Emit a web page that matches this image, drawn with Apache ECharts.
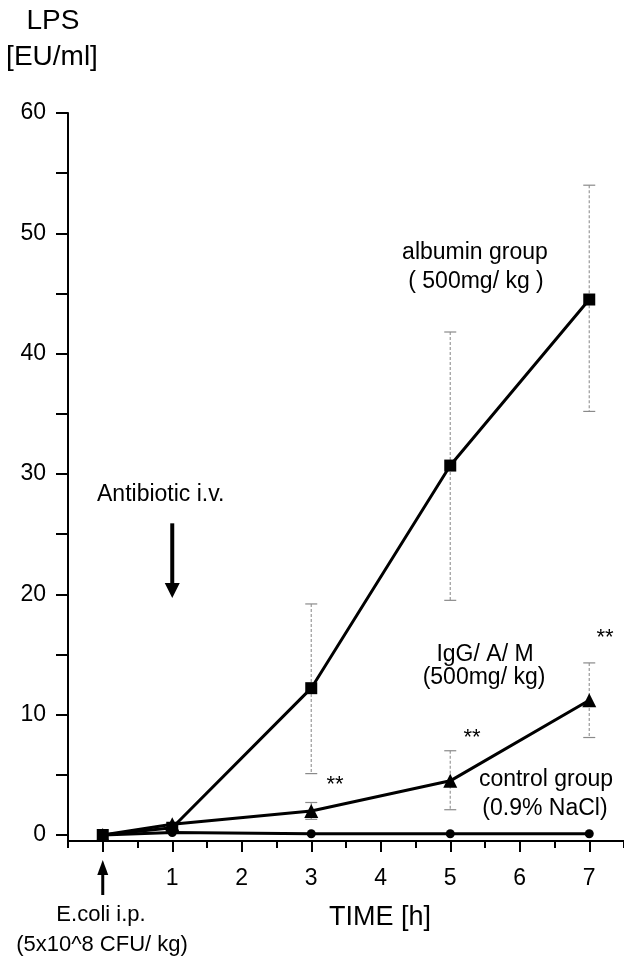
<!DOCTYPE html>
<html><head><meta charset="utf-8">
<script src="https://cdn.jsdelivr.net/npm/echarts@6/dist/echarts.min.js"></script>
<style>html,body{margin:0;padding:0;background:#fff}#c{width:624px;height:958px}</style>
</head><body><div id="c"></div>
<script>
// ---- data ----
const times = [0, 1, 3, 5, 7];
const albuminMean = [0, 0.6, 12.2, 30.7, 44.5];
const albuminLow  = [null, null, 5.1, 19.5, 35.2];
const albuminHigh = [null, null, 19.2, 41.8, 54.0];
const iggMean = [0, 0.9, 2.0, 4.5, 11.2];
const iggLow  = [null, null, 1.3, 2.1, 8.1];
const iggHigh = [null, null, 2.7, 7.0, 14.3];
const controlMean = [0, 0.2, 0.1, 0.1, 0.1];
const yTicks = [0, 5, 10, 15, 20, 25, 30, 35, 40, 45, 50, 55, 60];
const yLabels = [0, 10, 20, 30, 40, 50, 60];
const xMajorTicks = [0, 1, 2, 3, 4, 5, 6, 7];
const xLabels = [1, 2, 3, 4, 5, 6, 7];
const antibioticArrow = {x: 1, yFrom: 25.9, yTo: 19.7};
const ecoliArrowX = 0;

const FONT = "'Liberation Sans', Arial, Helvetica, sans-serif";
const pts = (m) => times.map((t, i) => [t, m[i]]);
const errs = (lo, hi) => times.map((t, i) => lo[i] == null ? null : [t, lo[i], hi[i]]).filter(Boolean);

function renderErr(params, api) {
  const x = api.value(0), lo = api.value(1), hi = api.value(2);
  const p1 = api.coord([x, hi]), p2 = api.coord([x, lo]);
  const w = 6;
  const st = {stroke: '#9a9a9a', lineWidth: 1.2, lineDash: [3, 2]};
  const cap = {stroke: '#8a8a8a', lineWidth: 1.2};
  return {type: 'group', children: [
    {type: 'line', shape: {x1: p1[0], y1: p1[1], x2: p2[0], y2: p2[1]}, style: st},
    {type: 'line', shape: {x1: p1[0] - w, y1: p1[1], x2: p1[0] + w, y2: p1[1]}, style: cap},
    {type: 'line', shape: {x1: p2[0] - w, y1: p2[1], x2: p2[0] + w, y2: p2[1]}, style: cap}
  ]};
}

const chart = echarts.init(document.getElementById('c'), null, {renderer: 'canvas'});
const lineBase = {type: 'line', xAxisIndex: 0, yAxisIndex: 0, lineStyle: {color: '#000', width: 3},
  itemStyle: {color: '#000'}, z: 3, silent: true};

chart.setOption({
  animation: false,
  backgroundColor: '#fff',
  grid: {left: 68, right: -4, top: 113, bottom: 117, containLabel: false},
  xAxis: [
    {type: 'value', min: -0.5, max: 7.5, interval: 0.5, position: 'bottom',
     axisLine: {show: true, onZero: false, lineStyle: {color: '#000', width: 2}},
     axisTick: {show: true, length: 7, lineStyle: {color: '#000', width: 2}},
     axisLabel: {show: false}, splitLine: {show: false}},
    {type: 'value', min: -0.5, max: 7.5, position: 'bottom',
     axisLine: {show: false, onZero: false},
     axisTick: {show: true, length: 11, customValues: xMajorTicks, lineStyle: {color: '#000', width: 2}},
     axisLabel: {show: true, customValues: xLabels, margin: 26, fontSize: 23, color: '#000', fontFamily: FONT},
     splitLine: {show: false}}
  ],
  yAxis: {type: 'value', min: -0.5, max: 60,
    axisLine: {show: true, onZero: false, lineStyle: {color: '#000', width: 2}},
    axisTick: {show: true, length: 12, customValues: yTicks, lineStyle: {color: '#000', width: 2}},
    axisLabel: {show: true, customValues: yLabels, margin: 22, fontSize: 23, color: '#000', fontFamily: FONT},
    splitLine: {show: false}},
  series: [
    {type: 'custom', xAxisIndex: 0, yAxisIndex: 0, renderItem: renderErr, data: errs(albuminLow, albuminHigh), encode: {x: 0, y: [1, 2]}, z: 1, silent: true},
    {type: 'custom', xAxisIndex: 0, yAxisIndex: 0, renderItem: renderErr, data: errs(iggLow, iggHigh), encode: {x: 0, y: [1, 2]}, z: 1, silent: true},
    Object.assign({}, lineBase, {name: 'control', data: pts(controlMean), symbol: 'circle', symbolSize: 9}),
    Object.assign({}, lineBase, {name: 'IgG', data: pts(iggMean), symbol: 'triangle', symbolSize: 14}),
    Object.assign({}, lineBase, {name: 'albumin', data: pts(albuminMean), symbol: 'rect', symbolSize: 12})
  ]
});

const c = (v) => chart.convertToPixel({xAxisIndex: 0, yAxisIndex: 0}, v);
const a1 = c([antibioticArrow.x, antibioticArrow.yFrom]);
const a2 = c([antibioticArrow.x, antibioticArrow.yTo]);
const e0 = c([ecoliArrowX, 0]);
const axisY = c([0, -0.5])[1];

function txt(text, x, y, size, align) {
  return {type: 'text', x: x, y: y, style: {text: text, fontSize: size, fontFamily: FONT, fill: '#000',
    align: align || 'center', verticalAlign: 'middle'}, z: 10};
}

chart.setOption({graphic: [
  txt('LPS', 53, 21, 28),
  txt('[EU/ml]', 52, 57, 28),
  txt('Antibiotic i.v.', 97, 495, 23, 'left'),
  txt('albumin group', 475, 253, 23),
  txt('( 500mg/ kg )', 476, 282, 23),
  txt('IgG/ A/ M', 485, 655, 23),
  txt('(500mg/ kg)', 484, 678, 23),
  txt('**', 605, 638, 22),
  txt('**', 472, 738, 22),
  txt('**', 335, 785, 22),
  txt('control group', 546, 780, 23),
  txt('(0.9% NaCl)', 545, 809, 23),
  txt('TIME [h]', 380, 918, 27),
  txt('E.coli i.p.', 101, 915, 22),
  txt('(5x10^8 CFU/ kg)', 102, 945, 22),
  // antibiotic arrow
  {type: 'line', shape: {x1: a1[0], y1: a1[1], x2: a2[0], y2: a2[1] - 12}, style: {stroke: '#000', lineWidth: 4}, z: 10},
  {type: 'polygon', shape: {points: [[a2[0] - 7.5, a2[1] - 15], [a2[0] + 7.5, a2[1] - 15], [a2[0], a2[1]]]}, style: {fill: '#000'}, z: 10},
  // e.coli arrow
  {type: 'line', shape: {x1: e0[0], y1: axisY + 30, x2: e0[0], y2: axisY + 54}, style: {stroke: '#000', lineWidth: 3}, z: 10},
  {type: 'polygon', shape: {points: [[e0[0] - 5.5, axisY + 34], [e0[0] + 5.5, axisY + 34], [e0[0], axisY + 19]]}, style: {fill: '#000'}, z: 10}
]});
</script>
</body></html>
